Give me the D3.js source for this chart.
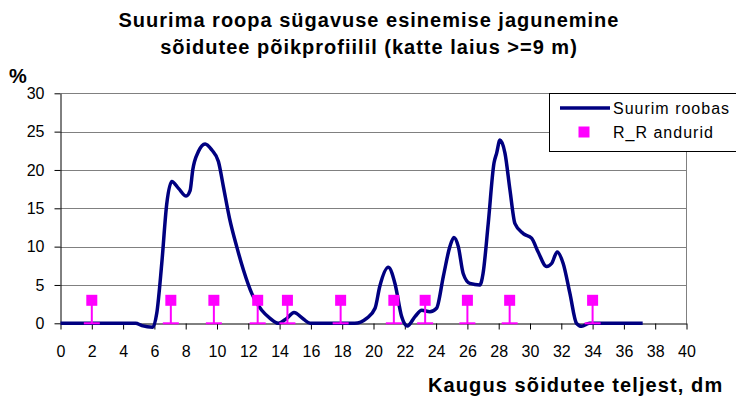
<!DOCTYPE html>
<html>
<head>
<meta charset="utf-8">
<script src="https://cdn.jsdelivr.net/npm/d3@7"></script>
<style>
  body { margin: 0; background: #fff; }
  svg { display: block; font-family: "Liberation Sans", Arial, sans-serif; }
</style>
</head>
<body>
<svg id="chart" width="736" height="401"></svg>
<script>
const titleLines = [
  "Suurima roopa sügavuse esinemise jagunemine",
  "sõidutee põikprofiilil (katte laius >=9 m)"
];
const xLabel = "Kaugus sõidutee teljest, dm";
const yLabel = "%";
const seriesNames = ["Suurim roobas", "R_R andurid"];

const xTicks = [0, 2, 4, 6, 8, 10, 12, 14, 16, 18, 20, 22, 24, 26, 28, 30, 32, 34, 36, 38, 40];
const yTicks = [0, 5, 10, 15, 20, 25, 30];

// suurim roobas
const rutX = [0, 2, 4, 4.8, 5.2, 5.9, 6.15, 6.47, 6.79, 7.11, 7.54, 8.03, 8.28, 8.45, 8.81, 9.24,
  9.67, 10.09, 10.41, 10.8, 11.26, 11.69, 12.22, 12.86, 13.39, 13.92, 14.46, 14.92, 15.52, 15.95,
  17, 18.8, 19.56, 20.1, 20.4, 20.95, 21.37, 21.8, 22.16, 22.65, 23.08, 23.6, 24.03, 24.46, 24.88,
  25.14, 25.42, 25.73, 26.16, 26.8, 27.0, 27.33, 27.7, 27.87, 28.08, 28.4, 28.72, 29.04, 29.57,
  30.1, 30.52, 31.06, 31.38, 31.74, 32.12, 32.55, 32.97, 33.3, 33.8, 35, 37.2];
const rutY = [0, 0, 0, 0, -0.3, -0.5, 1.3, 7.8, 15.6, 18.5, 17.6, 16.6, 17.3, 20.0, 22.4, 23.4,
  22.6, 21.1, 17.8, 13.7, 10.0, 6.95, 3.9, 1.7, 0.65, 0, 0.65, 1.4, 0.55, 0,
  0, 0, 0.65, 1.96, 4.8, 7.3, 5.2, 0.87, -0.35, 0.87, 1.7, 1.5, 1.96, 6.1, 10.0,
  11.2, 10.0, 6.5, 5.2, 5.0, 6.5, 13.0, 20.9, 22.2, 23.9, 22.2, 17.4, 13.0, 11.7,
  11.1, 9.3, 7.4, 7.8, 9.3, 7.8, 3.9, 0, -0.4, 0, 0, 0];

// R_R andurid
const sensorX = [2, 7.05, 9.8, 12.6, 14.5, 17.9, 21.3, 23.3, 26, 28.7, 34];
const sensorY = [3, 3, 3, 3, 3, 3, 3, 3, 3, 3, 3];
const sensorErrMinus = [3, 3, 3, 3, 3, 3, 3, 3, 3, 3, 3];

const NAVY = "#000080";
const PINK = "#ff00ff";

function computeSizes () {
  return { left: 60.5, right: 686.5, top: 93.3, bottom: 323.3 };
}

function draw () {
  const svg = d3.select("#chart");
  const s = computeSizes();

  const x = d3.scaleLinear().domain([0, 40]).range([s.left, s.right]);
  const y = d3.scaleLinear().domain([0, 30]).range([s.bottom, s.top]);

  // title
  svg.append("text")
    .attr("x", 369).attr("y", 27)
    .attr("text-anchor", "middle")
    .style("font-size", "20px").style("font-weight", "bold").style("letter-spacing", "1px")
    .selectAll("tspan")
    .data(titleLines)
    .join("tspan")
    .attr("x", 369)
    .attr("dy", (d, i) => i === 0 ? 0 : 27)
    .text(d => d);

  // gridlines
  svg.append("g")
    .selectAll("line")
    .data(yTicks.filter(t => t > 0))
    .join("line")
    .attr("x1", s.left).attr("x2", s.right)
    .attr("y1", d => Math.round(y(d)) + 0.5).attr("y2", d => Math.round(y(d)) + 0.5)
    .attr("stroke", "#808080");

  // right border of plot area
  svg.append("line")
    .attr("x1", s.right).attr("x2", s.right)
    .attr("y1", s.top).attr("y2", s.bottom)
    .attr("stroke", "#808080");

  // axes
  const yAxis = svg.append("g")
    .attr("transform", `translate(${s.left},0)`)
    .call(d3.axisLeft(y).tickValues(yTicks).tickSize(6).tickPadding(10).tickSizeOuter(0));
  const xAxis = svg.append("g")
    .attr("transform", `translate(0,${Math.round(s.bottom) + 0.5})`)
    .call(d3.axisBottom(x).tickValues(xTicks).tickSize(6).tickPadding(16).tickSizeOuter(0));

  [xAxis, yAxis].forEach(a => {
    a.selectAll("text")
      .style("font-size", "16px")
      .style("font-family", "\"Liberation Sans\", Arial, sans-serif")
      .attr("fill", "#000");
    a.selectAll("line, path").attr("stroke", "#000");
  });

  // axis titles
  svg.append("text")
    .attr("x", 9).attr("y", 83)
    .style("font-size", "20px").style("font-weight", "bold")
    .text(yLabel);
  svg.append("text")
    .attr("x", 428).attr("y", 392)
    .style("font-size", "20px").style("font-weight", "bold").style("letter-spacing", "1.1px")
    .text(xLabel);

  // curve
  const pts = rutX.map((d, i) => [d, rutY[i]]);
  svg.append("path")
    .datum(pts)
    .attr("fill", "none")
    .attr("stroke", NAVY)
    .attr("stroke-width", 3.5)
    .attr("stroke-linejoin", "round")
    .attr("d", d3.line().x(d => x(d[0])).y(d => y(d[1])).curve(d3.curveMonotoneX));

  // sensors with minus error bars
  const sens = sensorX.map((d, i) => ({ x: d, y: sensorY[i], e: sensorErrMinus[i] }));
  const g = svg.append("g");
  g.selectAll(".bar")
    .data(sens)
    .join("line")
    .attr("x1", d => x(d.x)).attr("x2", d => x(d.x))
    .attr("y1", d => y(d.y)).attr("y2", d => y(d.y - d.e))
    .attr("stroke", PINK).attr("stroke-width", 2);
  g.selectAll(".cap")
    .data(sens)
    .join("line")
    .attr("x1", d => x(d.x) - 8).attr("x2", d => x(d.x) + 8)
    .attr("y1", d => y(d.y - d.e)).attr("y2", d => y(d.y - d.e))
    .attr("stroke", PINK).attr("stroke-width", 2);
  g.selectAll("rect")
    .data(sens)
    .join("rect")
    .attr("x", d => x(d.x) - 5.5).attr("y", d => y(d.y) - 5.5)
    .attr("width", 11).attr("height", 11)
    .attr("fill", PINK);

  // legend
  const lg = svg.append("g");
  lg.append("rect")
    .attr("x", 549.5).attr("y", 93.5).attr("width", 200).attr("height", 58)
    .attr("fill", "#fff").attr("stroke", "#000");
  lg.append("line")
    .attr("x1", 560).attr("x2", 610).attr("y1", 108).attr("y2", 108)
    .attr("stroke", NAVY).attr("stroke-width", 3.5);
  lg.append("rect")
    .attr("x", 578.5).attr("y", 126.5).attr("width", 11).attr("height", 11)
    .attr("fill", PINK);
  lg.selectAll("text")
    .data(seriesNames)
    .join("text")
    .attr("x", 613)
    .attr("y", (d, i) => 113.5 + i * 24.5)
    .style("font-size", "16px").style("letter-spacing", "1px")
    .text(d => d);
}

draw();
</script>
</body>
</html>
